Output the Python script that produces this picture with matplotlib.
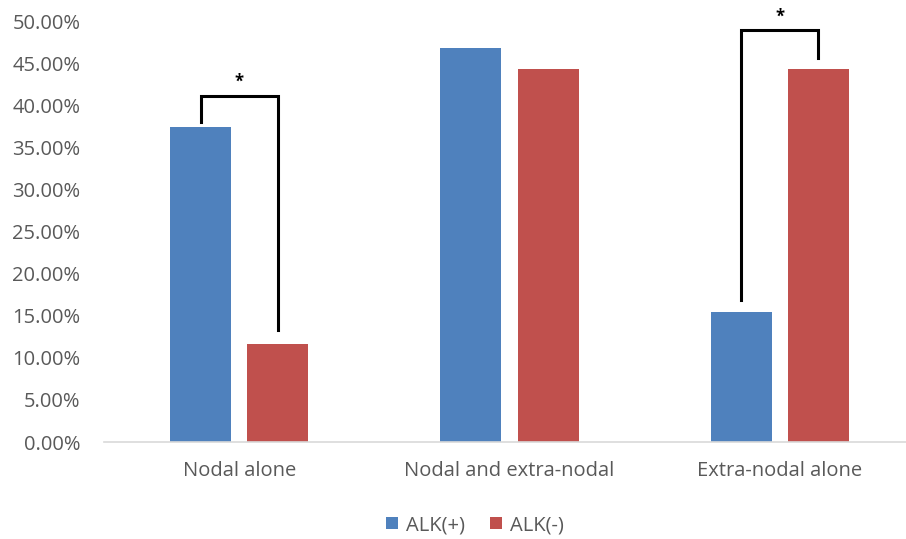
#!/usr/bin/env python3
"""Bar chart of ALK(+) vs ALK(-) involvement sites."""

import matplotlib
matplotlib.use('Agg')
import matplotlib.pyplot as plt
import numpy as np
from matplotlib.ticker import FuncFormatter

categories = ['Nodal alone', 'Nodal and extra-nodal', 'Extra-nodal alone']
alk_pos = [37.5, 46.9, 15.5]
alk_neg = [11.7, 44.3, 44.3]
series_labels = ['ALK(+)', 'ALK(-)']
y_ticks = [0, 5, 10, 15, 20, 25, 30, 35, 40, 45, 50]

# significance brackets: (category index, left end, top, right end, star y)
brackets = [
    (0, 38.0, 41.1, 13.3, 42.8),
    (2, 16.9, 49.0, 45.7, 50.6),
]

BLUE = '#4F81BD'
RED = '#C0504D'
TEXT = '#595959'

plt.rcParams['font.family'] = ['Open Sans', 'DejaVu Sans']

fig = plt.figure(figsize=(9.06, 5.39), dpi=100)
ax = fig.add_axes([104 / 906, 97 / 539, 811 / 906, 420.5 / 539])

x = np.arange(len(categories))
width = 0.226
offset = 0.1426
ax.bar(x - offset, alk_pos, width, color=BLUE, label=series_labels[0])
ax.bar(x + offset, alk_neg, width, color=RED, label=series_labels[1])

for idx, y_left, y_top, y_right, y_star in brackets:
    xl = idx - offset
    xr = idx + offset
    ax.plot([xl, xl, xr, xr], [y_left, y_top, y_top, y_right],
            color='black', lw=2.2, solid_joinstyle='miter', clip_on=False)
    ax.text(idx, y_star, '*', ha='center', va='center', fontsize=12,
            fontweight='bold', color='black', clip_on=False)

ax.set_xlim(-0.5, 2.5)
ax.set_ylim(0, 50)
ax.set_yticks(y_ticks)
ax.yaxis.set_major_formatter(FuncFormatter(lambda v, _: f'{v:.2f}%'))
ax.set_xticks(x)
ax.set_xticklabels(categories)

for side in ['top', 'right', 'left']:
    ax.spines[side].set_visible(False)
ax.spines['bottom'].set_color('#D9D9D9')
ax.spines['bottom'].set_linewidth(1.2)
ax.tick_params(axis='both', length=0, labelsize=14.5, colors=TEXT)
ax.tick_params(axis='x', pad=14)
ax.tick_params(axis='y', pad=17)

leg = fig.legend(loc='center', bbox_to_anchor=(475 / 906, 1 - 525 / 539),
                 ncol=2, frameon=False, fontsize=14.5, handlelength=0.6,
                 handleheight=0.6, handletextpad=0.4, columnspacing=1.2)
for t in leg.get_texts():
    t.set_color(TEXT)

fig.savefig('out.png', dpi=100)
